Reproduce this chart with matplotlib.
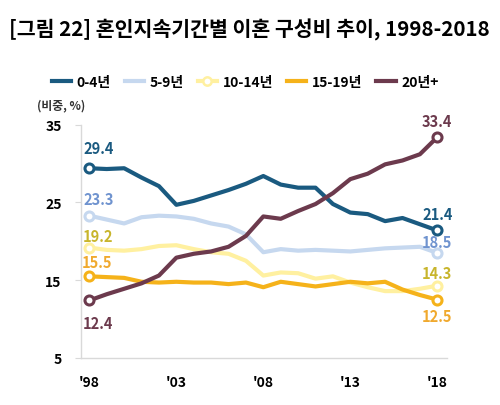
import numpy as np
import matplotlib
matplotlib.use("Agg")
import matplotlib.pyplot as plt
from matplotlib.lines import Line2D

plt.rcParams['font.family'] = ['Noto Sans CJK KR', 'DejaVu Sans']

# ============================================================
# DATOS
# ============================================================

anios = list(range(1998, 2019))

serie_0_4 = [29.4, 29.3, 29.4, 28.2, 27.1, 24.7, 25.2, 25.9, 26.6, 27.4, 28.4,
             27.3, 26.9, 26.9, 24.8, 23.7, 23.5, 22.6, 23.0, 22.2, 21.4]
serie_5_9 = [23.3, 22.8, 22.3, 23.1, 23.3, 23.2, 22.9, 22.3, 21.9, 20.9, 18.6,
             19.0, 18.8, 18.9, 18.8, 18.7, 18.9, 19.1, 19.2, 19.3, 18.5]
serie_10_14 = [19.2, 18.9, 18.8, 19.0, 19.4, 19.5, 19.0, 18.6, 18.4, 17.5, 15.6,
               16.0, 15.9, 15.2, 15.5, 14.7, 14.1, 13.6, 13.6, 13.9, 14.3]
serie_15_19 = [15.5, 15.4, 15.3, 14.8, 14.7, 14.8, 14.7, 14.7, 14.5, 14.7, 14.1,
               14.8, 14.5, 14.2, 14.5, 14.8, 14.6, 14.8, 13.8, 13.1, 12.5]
serie_20 = [12.4, 13.2, 13.9, 14.6, 15.6, 17.9, 18.4, 18.7, 19.3, 20.7, 23.2,
            22.9, 23.9, 24.8, 26.2, 28.0, 28.7, 29.9, 30.4, 31.2, 33.4]

etiquetas = ["0-4년", "5-9년", "10-14년", "15-19년", "20년+"]
ticks_x = [1998, 2003, 2008, 2013, 2018]
ticks_x_lbl = ["'98", "'03", "'08", "'13", "'18"]
ticks_y = [5, 15, 25, 35]

# ============================================================
# ESTILOS
# ============================================================

series = [serie_0_4, serie_5_9, serie_10_14, serie_15_19, serie_20]
colores = ["#1a5a80", "#c6d8ef", "#fff0a0", "#f5b21a", "#6c3a4d"]
colores_txt = ["#1a5a80", "#6f93cf", "#c8b52c", "#f0a92e", "#6c3a4d"]
# desplazamiento (px) de las etiquetas: inicio (dx, dy), fin (dx, dy)
off_ini = [(9, 20), (9, 17), (9, 12), (8, 14), (9, -23)]
off_fin = [(0, 16), (0, 11), (0, 13), (0, -16), (0, 16)]

fig = plt.figure(figsize=(5.0, 4.06), dpi=100)
ax = fig.add_axes([0.162, 0.1158, 0.7314, 0.5746])

for s, c, ct, oi, of in zip(series, colores, colores_txt, off_ini, off_fin):
    ax.plot(anios, s, color=c, lw=3.0, solid_joinstyle="round",
            solid_capstyle="round", zorder=2)
    ax.plot([anios[0], anios[-1]], [s[0], s[-1]], ls="none", marker="o",
            ms=6.5, mfc="white", mec=c, mew=2.2, zorder=3)
    for xi, yi, (dx, dy) in [(anios[0], s[0], oi), (anios[-1], s[-1], of)]:
        ax.annotate(f"{yi:.1f}", (xi, yi), xytext=(dx * 0.72, dy * 0.72),
                    textcoords="offset points", ha="center", va="center",
                    color=ct, fontsize=10.5, fontweight="bold")

ax.set_xlim(1997.52, 2018.54)
ax.set_ylim(5, 35)
ax.set_xticks(ticks_x)
ax.set_xticklabels(ticks_x_lbl)
ax.set_yticks(ticks_y)

for lado in ["top", "right"]:
    ax.spines[lado].set_visible(False)
for lado in ["left", "bottom"]:
    ax.spines[lado].set_color("#d9d9d9")
    ax.spines[lado].set_linewidth(1.0)

ax.tick_params(axis="y", length=4, color="#d9d9d9", pad=10, labelsize=10)
ax.tick_params(axis="x", length=0, pad=12, labelsize=10)
for t in ax.get_xticklabels() + ax.get_yticklabels():
    t.set_fontweight("bold")

# leyenda
handles = []
for i, (c, e) in enumerate(zip(colores, etiquetas)):
    if i == 2:
        handles.append(Line2D([0], [0], color=c, lw=3, marker="o", ms=6,
                              mfc="white", mec=c, mew=1.8, label=e))
    else:
        handles.append(Line2D([0], [0], color=c, lw=3, label=e))
fig.legend(handles=handles, loc="center", bbox_to_anchor=(0.49, 1 - 83 / 406),
           ncol=5, frameon=False, handlelength=1.4, handletextpad=0.4,
           columnspacing=1.0, prop={"weight": "bold", "size": 10})

fig.text(37 / 500, 1 - 106 / 406, "(비중, %)", fontsize=8.5, fontweight="bold",
         color="#333333", va="center", ha="left")

fig.text(0.498, 1 - 30 / 406, "[그림 22] 혼인지속기간별 이혼 구성비 추이, 1998-2018",
         fontsize=14.8, fontweight="bold", ha="center", va="center")

fig.savefig("out.png", dpi=100)
